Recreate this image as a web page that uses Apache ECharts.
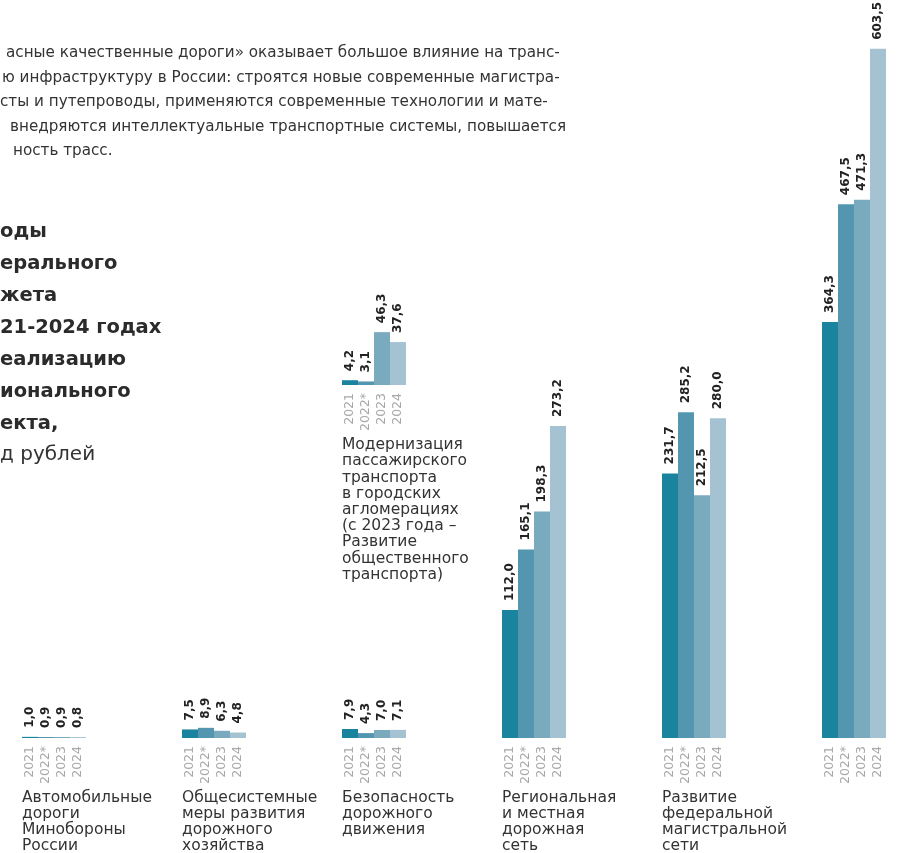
<!DOCTYPE html>
<html>
<head>
<meta charset="utf-8">
<script src="https://cdn.jsdelivr.net/npm/echarts@6/dist/echarts.min.js"></script>
<style>
  html, body { margin: 0; padding: 0; background: #fff; }
  #chart { width: 898px; height: 853px; }
</style>
</head>
<body>
<div id="chart"></div>
<script>
// годы и подписи групп
const years = ['2021', '2022*', '2023', '2024'];
const groupNames = [
    'Автомобильные\nдороги\nМинобороны\nРоссии',
    'Общесистемные\nмеры развития\nдорожного\nхозяйства',
    'Безопасность\nдорожного\nдвижения',
    'Региональная\nи местная\nдорожная\nсеть',
    'Развитие\nфедеральной\nмагистральной\nсети',
    ''
];
// млрд рублей
const values2021 = [1.0, 7.5, 7.9, 112.0, 231.7, 364.3];
const values2022 = [0.9, 8.9, 4.3, 165.1, 285.2, 467.5];
const values2023 = [0.9, 6.3, 7.0, 198.3, 212.5, 471.3];
const values2024 = [0.8, 4.8, 7.1, 273.2, 280.0, 603.5];

const transportName = 'Модернизация\nпассажирского\nтранспорта\nв городских\nагломерациях\n(с 2023 года –\nРазвитие\nобщественного\nтранспорта)';
const transportValues = [4.2, 3.1, 46.3, 37.6];

const introLines = [
    'асные качественные дороги» оказывает большое влияние на транс-',
    'ю инфраструктуру в России: строятся новые современные магистра-',
    'сты и путепроводы, применяются современные технологии и мате-',
    'внедряются интеллектуальные транспортные системы, повышается',
    'ность трасс.'
];
const titleLines = ['оды', 'ерального', 'жета', '21-2024 годах', 'еализацию', 'ионального', 'екта,'];
const unitText = 'д рублей';

const colors = ['#1a849e', '#5496b0', '#7aaabe', '#a5c2d3'];
const font = 'DejaVu Sans';
const byYear = [values2021, values2022, values2023, values2024];

// каждая группа — 4 столбца + 6 пустых позиций
const cats = [];
const barData = [];
groupNames.forEach((g, i) => {
    years.forEach((y, j) => {
        cats.push(y);
        barData.push({value: byYear[j][i], itemStyle: {color: colors[j]}});
    });
    if (i < groupNames.length - 1) {
        for (let k = 0; k < 6; k++) {
            cats.push('');
            barData.push('-');
        }
    }
});
const transportData = transportValues.map((v, j) => ({value: v, itemStyle: {color: colors[j]}}));

const fmt = p => p.value.toFixed(1).replace('.', ',');
const barLabel = {
    show: true,
    position: 'top',
    rotate: 90,
    align: 'left',
    verticalAlign: 'middle',
    distance: 9,
    fontFamily: font,
    fontWeight: 'bold',
    fontSize: 12,
    color: '#222',
    formatter: fmt
};
const yearAxis = (data, gridIndex) => ({
    type: 'category',
    gridIndex: gridIndex,
    data: data,
    axisLine: {show: false},
    axisTick: {show: false},
    axisLabel: {
        interval: 0,
        rotate: 90,
        margin: 8,
        fontFamily: font,
        fontSize: 12.5,
        color: '#a8a8a8'
    }
});

const graphics = [];
introLines.forEach((t, i) => {
    graphics.push({
        type: 'text',
        left: [6, 2, 0, 10, 13][i],
        top: 46 + i * 24.5,
        style: {text: t, font: '15.2px "' + font + '"', fill: '#333'}
    });
});
titleLines.forEach((t, i) => {
    graphics.push({
        type: 'text',
        left: 0,
        top: 222 + i * 32,
        style: {text: t, font: 'bold 19.5px "' + font + '"', fill: '#2b2b2b'}
    });
});
graphics.push({
    type: 'text', left: 0, top: 221 + 7 * 32,
    style: {text: unitText, font: '20px "' + font + '"', fill: '#333'}
});
groupNames.forEach((g, i) => {
    graphics.push({
        type: 'text',
        left: 22 + i * 160,
        top: 790,
        style: {text: g, font: '15.5px "' + font + '"', fill: '#333', lineHeight: 16}
    });
});
graphics.push({
    type: 'text', left: 342, top: 437,
    style: {text: transportName, font: '15.5px "' + font + '"', fill: '#333', lineHeight: 16.2}
});

const myChart = echarts.init(document.getElementById('chart'));
myChart.setOption({
    animation: false,
    backgroundColor: '#fff',
    grid: [
        {left: 22, width: 864, top: 30, bottom: 115},
        {left: 342, width: 64, bottom: 468, height: 68.5}
    ],
    xAxis: [yearAxis(cats, 0), yearAxis(years, 1)],
    yAxis: [
        {type: 'value', gridIndex: 0, min: 0, max: 620, show: false},
        {type: 'value', gridIndex: 1, min: 0, max: 60, show: false}
    ],
    series: [
        {
            type: 'bar',
            xAxisIndex: 0,
            yAxisIndex: 0,
            barCategoryGap: '0%',
            data: barData,
            label: barLabel
        },
        {
            type: 'bar',
            xAxisIndex: 1,
            yAxisIndex: 1,
            barCategoryGap: '0%',
            data: transportData,
            label: barLabel
        }
    ],
    graphic: graphics
});
</script>
</body>
</html>
